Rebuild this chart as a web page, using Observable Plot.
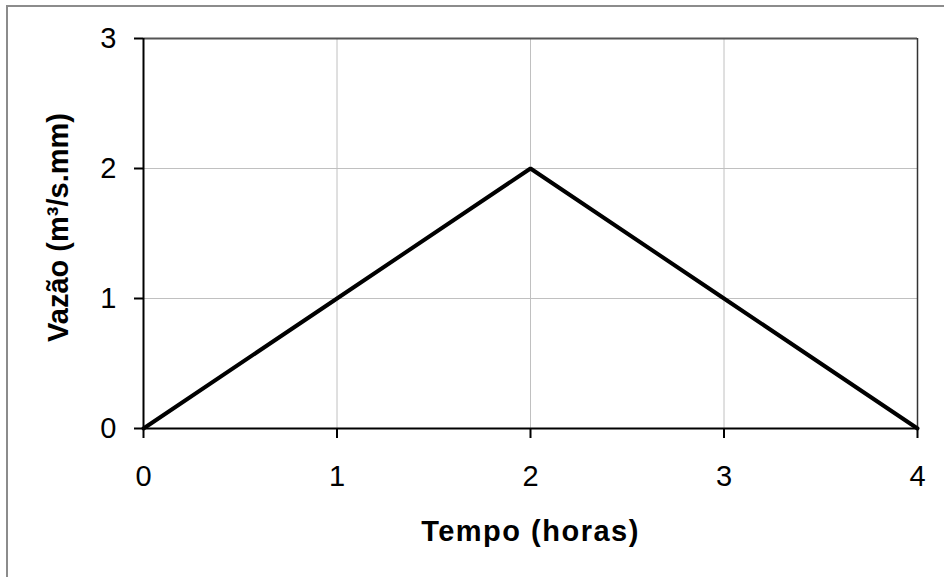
<!DOCTYPE html>
<html>
<head>
<meta charset="utf-8">
<script src="https://cdn.jsdelivr.net/npm/d3@7"></script>
<script src="https://cdn.jsdelivr.net/npm/@observablehq/plot@0.6"></script>
<style>
  html, body { margin: 0; padding: 0; background: #fff; }
  #wrap { position: relative; width: 944px; height: 577px; overflow: hidden; }
  #border { position: absolute; left: 6px; top: 5px; right: -10px; bottom: -10px;
            border-left: 2px solid #8c8c8c; border-top: 2px solid #8c8c8c; pointer-events: none; }
  svg { font-family: Arial, "Liberation Sans", sans-serif; }
  .xtitle text { letter-spacing: 1.5px; }
</style>
</head>
<body>
<div id="wrap"><div id="border"></div></div>
<script>
const tempo = [0, 1, 2, 3, 4];
const vazao = [0, 1, 2, 1, 0];
const xTicks = [0, 1, 2, 3, 4];
const yTicks = [0, 1, 2, 3];
const xTitle = "Tempo (horas)";
const yTitle = "Vazão (m³/s.mm)";

const data = tempo.map((t, i) => ({t, v: vazao[i]}));

const chart = Plot.plot({
  width: 944,
  height: 577,
  marginLeft: 143,
  marginRight: 27,
  marginTop: 38,
  marginBottom: 149,
  style: {fontFamily: "Arial, 'Liberation Sans', sans-serif", background: "transparent", overflow: "visible"},
  x: {domain: [0, 4]},
  y: {domain: [0, 3]},
  marks: [
    Plot.gridX(xTicks, {stroke: "#c0c0c0", strokeOpacity: 1, strokeWidth: 1}),
    Plot.gridY(yTicks, {stroke: "#c0c0c0", strokeOpacity: 1, strokeWidth: 1}),
    Plot.ruleY([3], {stroke: "#555", strokeWidth: 2}),
    Plot.ruleX([4], {stroke: "#333", strokeWidth: 1.5}),
    Plot.axisX(xTicks, {tickSize: 10, tickPadding: 27, fontSize: 29, stroke: "#000", strokeWidth: 2, color: "#000", label: null, tickFormat: d => String(d)}),
    Plot.axisY(yTicks, {tickSize: 9, tickPadding: 18, fontSize: 29, stroke: "#000", strokeWidth: 2, color: "#000", label: null, tickFormat: d => String(d)}),
    Plot.ruleX([0], {stroke: "#000", strokeWidth: 2}),
    Plot.ruleY([0], {stroke: "#000", strokeWidth: 2}),
    Plot.line(data, {x: "t", y: "v", stroke: "#000", strokeWidth: 4, strokeLinejoin: "miter"}),
    Plot.text([xTitle], {frameAnchor: "bottom", textAnchor: "middle", lineAnchor: "middle", dy: 103, fontSize: 29, fontWeight: "bold", fill: "#000", className: "xtitle"}),
    Plot.text([yTitle], {frameAnchor: "left", textAnchor: "middle", lineAnchor: "middle", dx: -85, dy: -6, rotate: -90, fontSize: 29, fontWeight: "bold", fill: "#000"})
  ]
});
document.getElementById("wrap").appendChild(chart);
</script>
</body>
</html>
